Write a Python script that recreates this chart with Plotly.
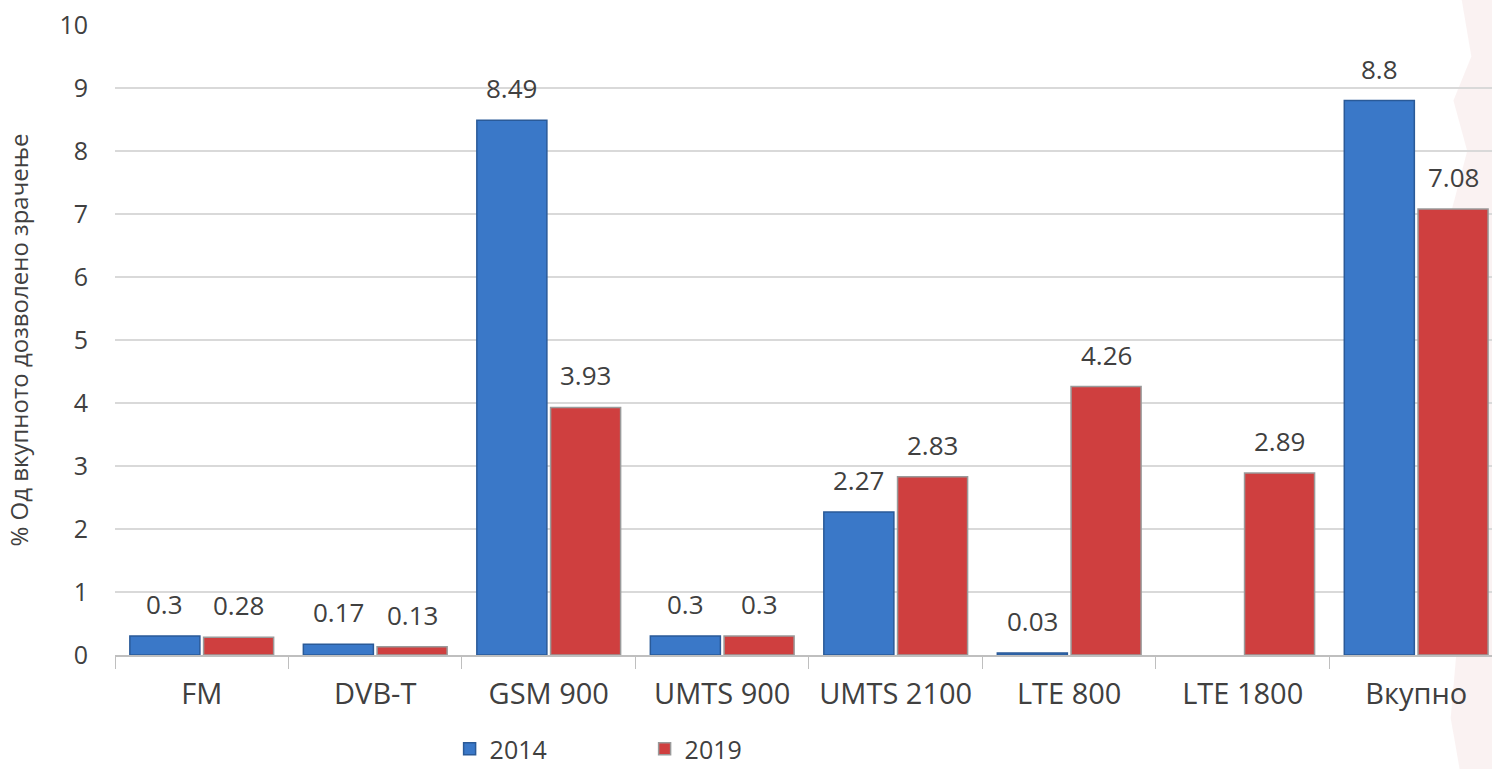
import plotly.graph_objects as go

# Share of the total permitted exposure, by service band
categories = ["FM", "DVB-T", "GSM 900", "UMTS 900", "UMTS 2100", "LTE 800", "LTE 1800", "Вкупно"]
values_2014 = [0.3, 0.17, 8.49, 0.3, 2.27, 0.03, None, 8.8]
values_2019 = [0.28, 0.13, 3.93, 0.3, 2.83, 4.26, 2.89, 7.08]
series_names = ["2014", "2019"]
y_ticks = list(range(0, 11))

FONT = "Open Sans"
TEXT = "#404040"

fig = go.Figure()
fig.add_trace(go.Bar(
    x=categories, y=values_2014, name=series_names[0],
    marker=dict(color="#3a78c8", line=dict(color="#2a5a98", width=1.5)),
))
fig.add_trace(go.Bar(
    x=categories, y=values_2019, name=series_names[1],
    marker=dict(color="#cf3f3f", line=dict(color="#9a9a9a", width=1.5)),
))

# value labels above each bar
annotations = []
for vals, shift in ((values_2014, -37), (values_2019, 37)):
    for cat, v in zip(categories, vals):
        if v is None:
            continue
        annotations.append(dict(
            x=cat, y=v, xref="x", yref="y", text=f"{v:g}", showarrow=False,
            xshift=shift, yshift=12, yanchor="bottom",
            font=dict(family=FONT, size=26, color=TEXT),
        ))

fig.update_layout(
    width=1492, height=769,
    margin=dict(l=115, r=0, t=25, b=114, autoexpand=False),
    paper_bgcolor="white", plot_bgcolor="rgba(0,0,0,0)",
    barmode="group", bargap=0.15, bargroupgap=0.05,
    font=dict(family=FONT, size=24, color=TEXT),
    annotations=annotations,
    showlegend=True,
    legend=dict(
        orientation="h", x=0.243, xanchor="left",
        yref="container", y=0.026, yanchor="middle",
        font=dict(family=FONT, size=25, color=TEXT),
        entrywidth=150, itemwidth=30,
    ),
    shapes=[dict(
        type="path", xref="paper", yref="paper", layer="below",
        path="M 0.978 1.04 L 0.985 0.95 L 0.972 0.88 L 0.982 0.8 L 0.97 0.7 L 0.978 0.6 "
             "L 0.968 0.5 L 0.976 0.4 L 0.966 0.3 L 0.975 0.2 L 0.968 0.1 L 0.974 0.0 "
             "L 0.97 -0.1 L 0.978 -0.2 L 1.0 -0.2 L 1.0 1.04 Z",
        fillcolor="rgba(205,110,110,0.09)", line=dict(width=0),
    )],
)

fig.update_xaxes(
    type="category", range=[-0.5, 7.437], automargin=False,
    showline=True, linecolor="#bfbfbf", linewidth=1.5,
    ticks="outside", tickson="boundaries", ticklen=12, tickcolor="#bfbfbf",
    ticklabelstandoff=12,
    tickfont=dict(family=FONT, size=29, color=TEXT),
    showgrid=False,
)
fig.update_yaxes(
    range=[0, 10], tickvals=y_ticks, automargin=False,
    showgrid=True, gridcolor="#d9d9d9", gridwidth=1.5,
    zeroline=False, ticks="", ticklabelstandoff=26,
    tickfont=dict(family=FONT, size=25, color=TEXT),
    title=dict(text="% Од вкупното дозволено зрачење",
               font=dict(family=FONT, size=24, color=TEXT), standoff=24),
)

fig.write_html("out.html")
